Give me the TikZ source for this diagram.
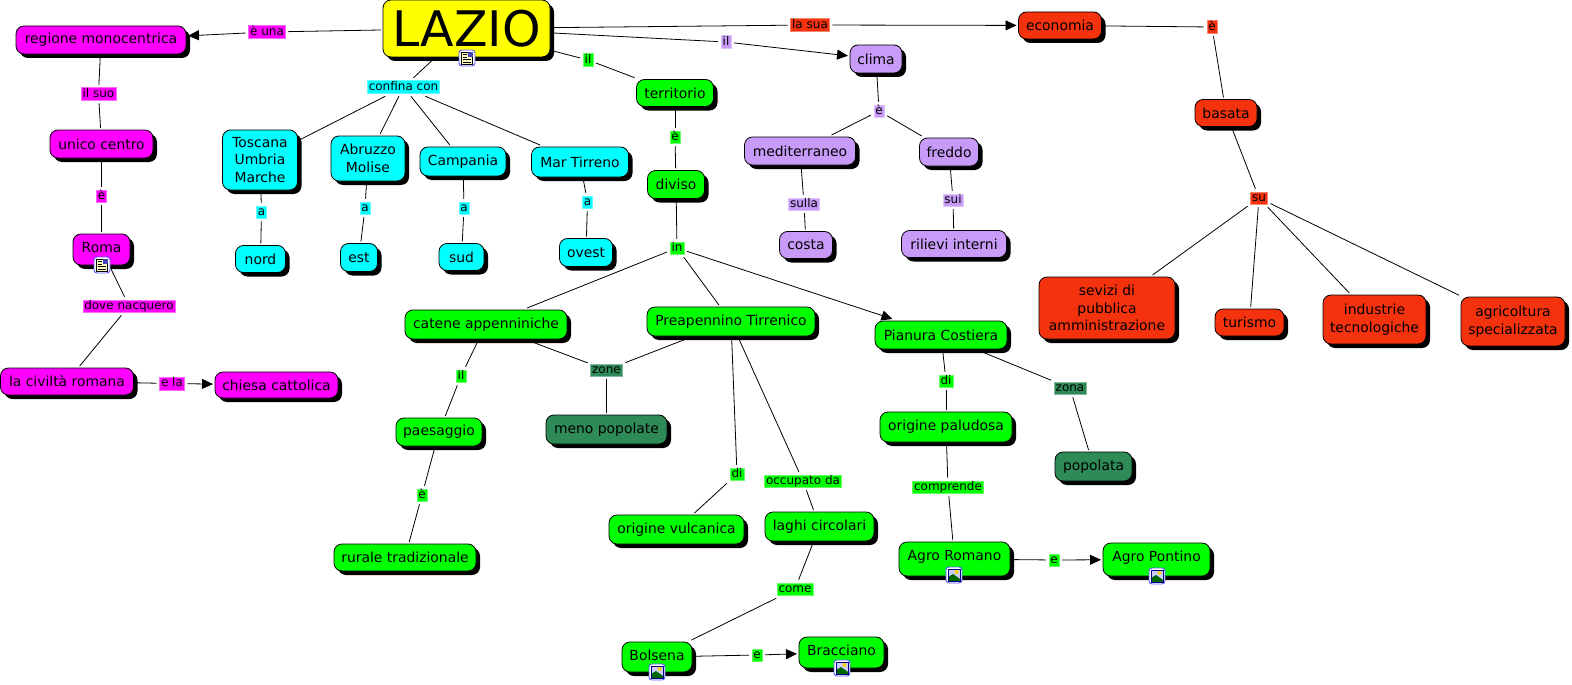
\documentclass[tikz,border=0pt]{standalone}
\usepackage{fontspec}
\setsansfont{DejaVu Sans}
\usetikzlibrary{arrows.meta, shadows}

\definecolor{mag}{HTML}{FF00FF}
\definecolor{cya}{HTML}{00FFFF}
\definecolor{gre}{HTML}{00FF00}
\definecolor{pur}{HTML}{C89BF8}
\definecolor{ros}{HTML}{F5320E}
\definecolor{sea}{HTML}{2E8B57}
\definecolor{gia}{HTML}{FFFF00}

\begin{document}
\begin{tikzpicture}[
    x=1pt, y=-1pt,
    every node/.style = {font=\sffamily},
    box/.style = {rectangle, rounded corners=8pt, draw=black, line width=0.8pt,
                  align=center, inner sep=0pt, outer sep=2pt,
                  font=\sffamily\fontsize{13.9}{17.5}\selectfont,
                  drop shadow={shadow xshift=4pt, shadow yshift=-4pt, fill=black, opacity=1}},
    wh/.style 2 args = {minimum width=#1, minimum height=#2},
    lab/.style = {rectangle, inner xsep=1.5pt, inner ysep=1pt, outer sep=3pt,
                  fill=#1, draw=#1!60!white, line width=0.5pt,
                  font=\sffamily\fontsize{12}{13}\selectfont,
                  text height=8.5pt, text depth=2pt},
    lin/.style = {line width=0.8pt, black},
    arr/.style = {lin, -{Triangle[length=11pt, width=10pt]}},
    iconbox/.style = {draw=blue!65!white, fill=white, line width=0.9pt, rounded corners=3pt},
    pics/docicon/.style = {code={
        \draw[iconbox] (-8,-8) rectangle (8,8);
        \fill[yellow!25] (-5.5,-6) rectangle (5.5,6);
        \draw[black, line width=0.6pt] (-5.5,-6) rectangle (5.5,6);
        \fill[blue!45!gray] (0.5,-6) rectangle (5.5,-1);
        \foreach \yy in {-3.5,-1,1.5,4} \draw[black, line width=0.6pt] (-4,\yy) -- (\ifdim\yy pt<-0.5pt -0.5\else 4\fi,\yy);
      }},
    pics/imgicon/.style = {code={
        \draw[iconbox] (-8,-8) rectangle (8,8);
        \fill[blue!20!white] (-6,-6) rectangle (6,6);
        \fill[yellow!70!orange] (2.5,-3) circle (2);
        \fill[green!40!black] (-6,6) -- (-6,2) -- (-1,-1) -- (6,4) -- (6,6) -- cycle;
        \draw[blue!50!black, line width=0.6pt] (-6,-6) rectangle (6,6);
      }}
  ]

  \useasboundingbox (0,0) rectangle (1572,685);

  % nodes
  \node[box, fill=gia, wh={167}{57}, font=\sffamily\fontsize{49}{51}\selectfont] (lazio) at (466.5,28.5) {LAZIO};

  \node[box, fill=mag, wh={170}{28}] (regione) at (101,40) {regione monocentrica};
  \node[box, fill=mag, wh={103}{28}] (unico) at (101.5,144) {unico centro};
  \node[box, fill=mag, wh={57}{31}, text depth=4pt] (roma) at (101.5,249.5) {Roma};
  \node[box, fill=mag, wh={133}{27}] (civilta) at (67,381.5) {la civiltà romana};
  \node[box, fill=mag, wh={123}{26}] (chiesa) at (276.5,385) {chiesa cattolica};

  \node[box, fill=cya, wh={75}{60}] (toscana) at (260,160) {Toscana\\Umbria\\Marche};
  \node[box, fill=cya, wh={74}{45}] (abruzzo) at (368,158.5) {Abruzzo\\Molise};
  \node[box, fill=cya, wh={86}{29}] (campania) at (463,161.5) {Campania};
  \node[box, fill=cya, wh={97}{30}] (tirreno) at (580,162) {Mar Tirreno};
  \node[box, fill=cya, wh={50}{27}] (nord) at (260.5,259) {nord};
  \node[box, fill=cya, wh={37}{28}] (est) at (359,257.5) {est};
  \node[box, fill=cya, wh={45}{27}] (sud) at (461.5,257) {sud};
  \node[box, fill=cya, wh={53}{28}] (ovest) at (586,252.5) {ovest};

  \node[box, fill=gre, wh={77}{27}] (territorio) at (675,93) {territorio};
  \node[box, fill=gre, wh={57}{28}] (diviso) at (676,184.5) {diviso};
  \node[box, fill=gre, wh={162}{29}] (catene) at (486,324.5) {catene appenniniche};
  \node[box, fill=gre, wh={168}{29}] (preap) at (731,321.5) {Preapennino Tirrenico};
  \node[box, fill=gre, wh={132}{28}] (pianura) at (941,335) {Pianura Costiera};
  \node[box, fill=gre, wh={86}{28}] (paesaggio) at (439,432) {paesaggio};
  \node[box, fill=sea, wh={121}{29}] (meno) at (606.5,429.5) {meno popolate};
  \node[box, fill=gre, wh={132}{30}] (paludosa) at (946,427) {origine paludosa};
  \node[box, fill=sea, wh={77}{29}] (popolata) at (1093.5,466.5) {popolata};
  \node[box, fill=gre, wh={142}{27}] (rurale) at (405,557.5) {rurale tradizionale};
  \node[box, fill=gre, wh={135}{29}] (vulcanica) at (676.5,529.5) {origine vulcanica};
  \node[box, fill=gre, wh={109}{29}] (laghi) at (819.5,526.5) {laghi circolari};
  \node[box, fill=gre, wh={111}{34}, text depth=8pt] (romano) at (954.5,559) {Agro Romano};
  \node[box, fill=gre, wh={107}{33}, text depth=7pt] (pontino) at (1156.5,559.5) {Agro Pontino};
  \node[box, fill=gre, wh={70}{30}, text depth=3pt] (bolsena) at (657,657) {Bolsena};
  \node[box, fill=gre, wh={85}{31}, text depth=5pt] (bracciano) at (841.5,652.5) {Bracciano};

  \node[box, fill=pur, wh={52}{28}] (clima) at (876,59) {clima};
  \node[box, fill=pur, wh={111}{28}] (mediterraneo) at (800,151) {mediterraneo};
  \node[box, fill=pur, wh={59}{28}] (freddo) at (949,152) {freddo};
  \node[box, fill=pur, wh={53}{27}] (costa) at (806,245) {costa};
  \node[box, fill=pur, wh={105}{27}] (rilievi) at (954,244) {rilievi interni};

  \node[box, fill=ros, wh={83}{27}] (economia) at (1060,25.5) {economia};
  \node[box, fill=ros, wh={62}{27}] (basata) at (1226,113) {basata};
  \node[box, fill=ros, wh={136}{62}] (sevizi) at (1107,308) {sevizi di\\pubblica\\amministrazione};
  \node[box, fill=ros, wh={69}{27}] (turismo) at (1249.5,322.5) {turismo};
  \node[box, fill=ros, wh={103}{49}] (industrie) at (1374.5,319.5) {industrie\\tecnologiche};
  \node[box, fill=ros, wh={104}{49}] (agricoltura) at (1513,321.5) {agricoltura\\specializzata};

  % labels
  \node[lab=mag] (eunaL) at (267,32) {è una};
  \node[lab=mag] (ilsuoL) at (98.5,94) {il suo};
  \node[lab=mag] (eL) at (101.5,196) {è};
  \node[lab=mag] (doveL) at (129,306) {dove nacquero};
  \node[lab=mag] (elaL) at (172,383.5) {e la};
  \node[lab=cya] (confinaL) at (403.5,87) {confina con};
  \node[lab=cya] (anord) at (261.5,212) {a};
  \node[lab=cya] (aest) at (365,208) {a};
  \node[lab=cya] (asud) at (464,208) {a};
  \node[lab=cya] (aovest) at (587.5,202) {a};
  \node[lab=gre] (ilterr) at (588,60) {il};
  \node[lab=gre] (eterr) at (675,137) {è};
  \node[lab=gre] (inL) at (677,248) {in};
  \node[lab=gre] (ilcat) at (461,376) {il};
  \node[lab=sea] (zoneL) at (606.5,370) {zone};
  \node[lab=gre] (divulc) at (737,474) {di};
  \node[lab=gre] (occupatoL) at (803,481) {occupato da};
  \node[lab=gre] (dipal) at (946,381) {di};
  \node[lab=sea] (zonaL) at (1070,388) {zona};
  \node[lab=gre] (epaes) at (422,495) {è};
  \node[lab=gre] (comprendeL) at (948,487) {comprende};
  \node[lab=gre] (comeL) at (795,589) {come};
  \node[lab=gre] (eagro) at (1054,560) {e};
  \node[lab=gre] (ebol) at (757,655) {e};
  \node[lab=pur] (ilclima) at (726,42) {il};
  \node[lab=pur] (eclima) at (879,111) {è};
  \node[lab=pur] (sullaL) at (804,204) {sulla};
  \node[lab=pur] (suiL) at (953,200) {sui};
  \node[lab=ros] (lasuaL) at (810,25) {la sua};
  \node[lab=ros] (eeco) at (1212,27) {è};
  \node[lab=ros] (suL) at (1259,198) {su};

  % edges
  \draw[lin] (lazio) -- (eunaL);
  \draw[arr] (eunaL) -- (regione);
  \draw[lin] (regione) -- (ilsuoL);
  \draw[lin] (ilsuoL) -- (unico);
  \draw[lin] (unico) -- (eL);
  \draw[lin] (eL) -- (roma);
  \draw[lin] (roma) -- (doveL);
  \draw[lin] (doveL) -- (civilta);
  \draw[lin] (civilta) -- (elaL);
  \draw[arr] (elaL) -- (chiesa);

  \draw[lin] (lazio) -- (confinaL);
  \foreach \a/\b/\c in {toscana/anord/nord, abruzzo/aest/est, campania/asud/sud, tirreno/aovest/ovest} {
    \draw[lin] (confinaL) -- (\a);
    \draw[lin] (\a) -- (\b);
    \draw[lin] (\b) -- (\c);
  }

  \draw[lin] (lazio) -- (ilterr);
  \draw[lin] (ilterr) -- (territorio);
  \draw[lin] (territorio) -- (eterr);
  \draw[lin] (eterr) -- (diviso);
  \draw[lin] (diviso) -- (inL);
  \draw[lin] (inL) -- (catene);
  \draw[lin] (inL) -- (preap);
  \draw[arr] (inL) -- (pianura);
  \draw[lin] (catene) -- (ilcat);
  \draw[lin] (ilcat) -- (paesaggio);
  \draw[lin] (paesaggio) -- (epaes);
  \draw[lin] (epaes) -- (rurale);
  \draw[lin] (catene) -- (zoneL);
  \draw[lin] (preap) -- (zoneL);
  \draw[lin] (zoneL) -- (meno);
  \draw[lin] (preap) -- (divulc);
  \draw[lin] (divulc) -- (vulcanica);
  \draw[lin] (preap) -- (occupatoL);
  \draw[lin] (occupatoL) -- (laghi);
  \draw[lin] (laghi) -- (comeL);
  \draw[lin] (comeL) -- (bolsena);
  \draw[lin] (bolsena) -- (ebol);
  \draw[arr] (ebol) -- (bracciano);
  \draw[lin] (pianura) -- (dipal);
  \draw[lin] (dipal) -- (paludosa);
  \draw[lin] (pianura) -- (zonaL);
  \draw[lin] (zonaL) -- (popolata);
  \draw[lin] (paludosa) -- (comprendeL);
  \draw[lin] (comprendeL) -- (romano);
  \draw[lin] (romano) -- (eagro);
  \draw[arr] (eagro) -- (pontino);

  \draw[lin] (lazio) -- (ilclima);
  \draw[arr] (ilclima) -- (clima);
  \draw[lin] (clima) -- (eclima);
  \draw[lin] (eclima) -- (mediterraneo);
  \draw[lin] (eclima) -- (freddo);
  \draw[lin] (mediterraneo) -- (sullaL);
  \draw[lin] (sullaL) -- (costa);
  \draw[lin] (freddo) -- (suiL);
  \draw[lin] (suiL) -- (rilievi);

  \draw[lin] (lazio) -- (lasuaL);
  \draw[arr] (lasuaL) -- (economia);
  \draw[lin] (economia) -- (eeco);
  \draw[lin] (eeco) -- (basata);
  \draw[lin] (basata) -- (suL);
  \draw[lin] (suL) -- (sevizi);
  \draw[lin] (suL) -- (turismo);
  \draw[lin] (suL) -- (industrie);
  \draw[lin] (suL) -- (agricoltura);

  % icons
  \pic at (467,58) {docicon};
  \pic at (102,265) {docicon};
  \pic at (954,575) {imgicon};
  \pic at (1157,576) {imgicon};
  \pic at (657,672) {imgicon};
  \pic at (842,668) {imgicon};

\end{tikzpicture}
\end{document}
